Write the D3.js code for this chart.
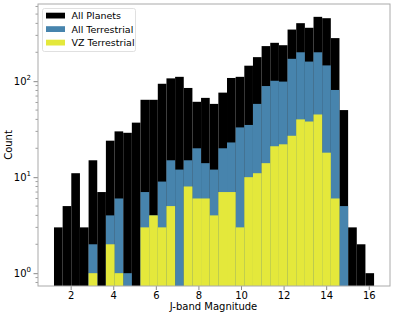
<!DOCTYPE HTML>
<html>
<meta charset="utf-8">
<title>J-band histogram</title>
<script src="https://d3js.org/d3.v7.min.js"></script>
<head>
<style>
	body { margin: 0; background: #fff; }
	text { font-family: "DejaVu Sans", sans-serif; fill: #000; }
</style>
</head>
<body>
<svg id="chart" width="395" height="316"></svg>

<script type="text/javascript">

/** DATA **/
	var binStart = 1.217;
	var binWidth = 0.4063;

	var allPlanets = [3, 5, 11, 3, 15, 7, 24, 30, 29, 37, 64, 64, 94, 107, 111, 85, 61, 67, 58, 76,
		108, 111, 145, 178, 232, 251, 237, 345, 402, 360, 468, 453, 281, 50, 3, 2, 1];
	var allTerrestrial = [0, 0, 0, 0, 2, 0, 4, 6, 1, 0, 7, 4, 9, 15, 12, 15, 20, 14, 12, 20,
		23, 33, 35, 58, 89, 101, 99, 171, 200, 160, 200, 146, 81, 5, 0, 0, 0];
	var vzTerrestrial = [0, 0, 0, 0, 1, 0, 2, 1, 0, 0, 3, 4, 3, 5, 0, 8, 6, 6, 4, 7,
		7, 3, 10, 11, 14, 21, 22, 27, 40, 38, 45, 18, 6, 0, 0, 0, 0];

	var seriesNames = ["All Planets", "All Terrestrial", "VZ Terrestrial"];
	var seriesColors = ["#000000", "#4784ad", "#e4e83b"];
	var xTicks = [2, 4, 6, 8, 10, 12, 14, 16];
	var yTicks = [1, 10, 100];

/** CHART **/
	// note: "top" is taken by window.top, so plot edges get their own names
	var plotLeft = 38, plotRight = 390, plotTop = 4, plotBottom = 286;
	var svg = d3.select("#chart");

	var x = d3.scaleLinear().domain([0.466, 16.998]).range([plotLeft, plotRight]);
	var y = d3.scaleLog().domain([Math.pow(10, -0.1335), Math.pow(10, 2.804)]).range([plotBottom, plotTop]);

	var plot = svg.append("g");

	[allPlanets, allTerrestrial, vzTerrestrial].forEach(function(counts, s){
		plot.append("g")
			.selectAll("rect")
			.data(counts.map(function(c, i){ return {i: i, c: c}; }).filter(function(d){ return d.c > 0; }))
			.enter().append("rect")
			.attr("x", function(d){ return x(binStart + d.i * binWidth); })
			.attr("width", function(d){ return x(binStart + (d.i + 1) * binWidth) - x(binStart + d.i * binWidth); })
			.attr("y", function(d){ return y(d.c); })
			.attr("height", function(d){ return plotBottom - y(d.c); })
			.attr("fill", seriesColors[s]);
	});

	// x axis
	var xAxis = svg.append("g")
		.attr("transform", "translate(0," + plotBottom + ")")
		.call(d3.axisBottom(x).tickValues(xTicks).tickSize(4).tickPadding(2).tickFormat(d3.format("d")));
	xAxis.select(".domain").remove();
	xAxis.selectAll(".tick line").attr("stroke", "#888");
	xAxis.selectAll(".tick text").attr("font-size", "10px").attr("font-family", "DejaVu Sans");

	// y axis, minor ticks first
	var minor = [];
	for (var e = -1; e < 3; e++) {
		for (var k = 2; k < 10; k++) {
			var v = k * Math.pow(10, e);
			if (v >= y.domain()[0] && v <= y.domain()[1]) minor.push(v);
		}
	}
	svg.append("g").selectAll("line")
		.data(minor)
		.enter().append("line")
		.attr("x1", plotLeft - 2.5).attr("x2", plotLeft)
		.attr("y1", function(d){ return y(d); })
		.attr("y2", function(d){ return y(d); })
		.attr("stroke", "#888")
		.attr("stroke-width", 0.8);

	var yAxis = svg.append("g")
		.attr("transform", "translate(" + plotLeft + ",0)")
		.call(d3.axisLeft(y).tickValues(yTicks).tickSize(4.5).tickFormat(""));
	yAxis.select(".domain").remove();
	yAxis.selectAll(".tick line").attr("stroke", "#888");

	var yLab = svg.append("g").selectAll("text")
		.data(yTicks)
		.enter().append("text")
		.attr("x", 31)
		.attr("y", function(d){ return y(d) + 3.6; })
		.attr("text-anchor", "end")
		.attr("font-size", "10px");
	yLab.append("tspan").text("10");
	yLab.append("tspan")
		.attr("dy", -4.5)
		.attr("font-size", "7px")
		.text(function(d){ return Math.round(Math.log10(d)); });

	// frame
	svg.append("rect")
		.attr("x", plotLeft).attr("y", plotTop)
		.attr("width", plotRight - plotLeft).attr("height", plotBottom - plotTop)
		.attr("fill", "none")
		.attr("stroke", "#aaa")
		.attr("stroke-width", 1);

	// labels
	svg.append("text")
		.attr("x", (plotLeft + plotRight) / 2 - 0.5)
		.attr("y", 309.5)
		.attr("text-anchor", "middle")
		.attr("font-size", "10px")
		.text("J-band Magnitude");

	svg.append("text")
		.attr("transform", "translate(12," + (plotTop + plotBottom) / 2 + ") rotate(-90)")
		.attr("text-anchor", "middle")
		.attr("font-size", "10px")
		.text("Count");

	// legend
	var legend = svg.append("g").attr("transform", "translate(42.5,8.5)");
	legend.append("rect")
		.attr("width", 93).attr("height", 43)
		.attr("rx", 2)
		.attr("fill", "#fff")
		.attr("fill-opacity", 0.85)
		.attr("stroke", "#d8d8d8")
		.attr("stroke-width", 0.8);
	var rows = legend.selectAll(".row")
		.data(seriesNames)
		.enter().append("g")
		.attr("class", "row")
		.attr("transform", function(d, i){ return "translate(0," + (i * 13.5) + ")"; });
	rows.append("rect")
		.attr("x", 3.5).attr("y", 4.2)
		.attr("width", 19).attr("height", 5.8)
		.attr("fill", function(d, i){ return seriesColors[i]; });
	rows.append("text")
		.attr("x", 29)
		.attr("y", 10.6)
		.attr("font-size", "9.5px")
		.text(function(d){ return d; });

</script>
</body>
</html>
